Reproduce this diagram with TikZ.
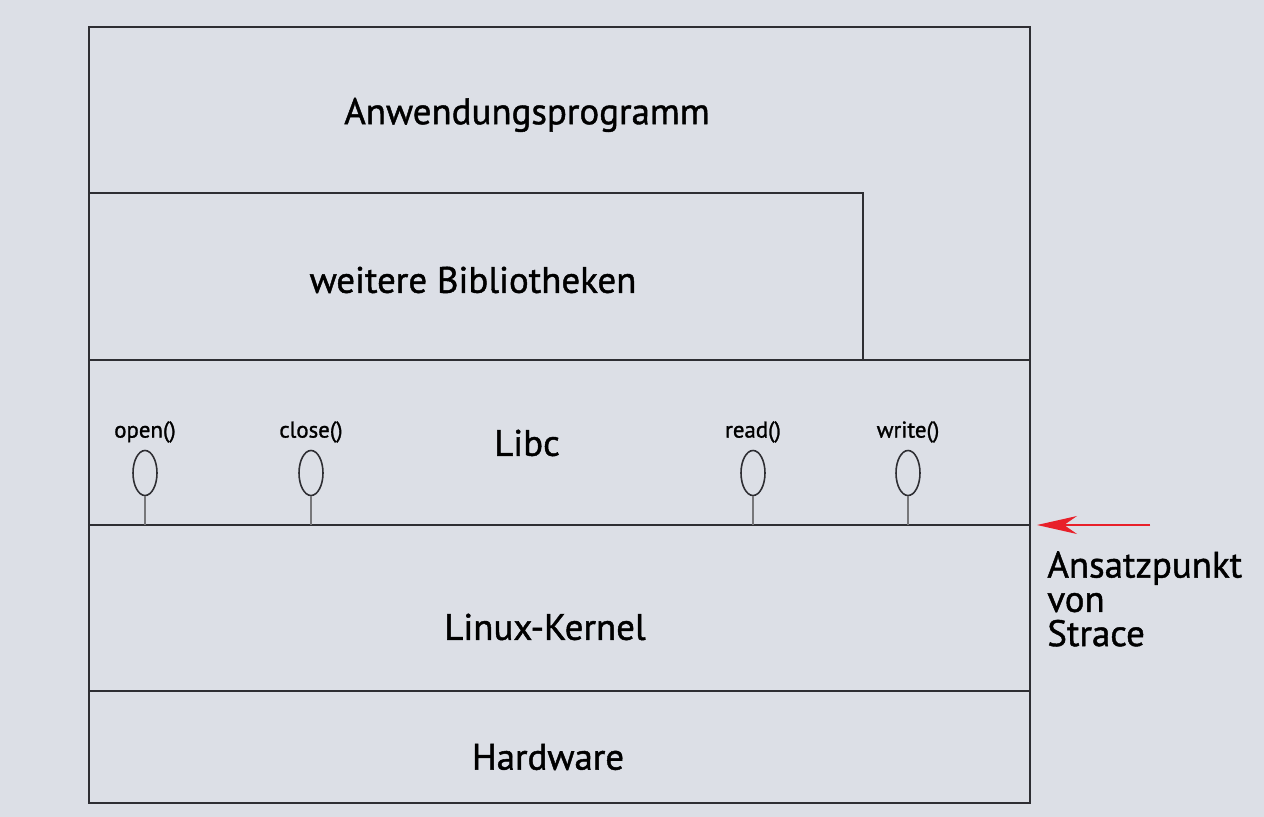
\documentclass[tikz,border=0pt]{standalone}
\usepackage{fontspec}
\setmainfont{PT Sans}
\newfontfamily\layerfont[FakeBold=1.2]{PT Sans}
\usepackage{xcolor}
\usetikzlibrary{positioning, arrows.meta, shapes.geometric, calc}
\definecolor{bgcol}{HTML}{DCDFE6}
\definecolor{linecol}{HTML}{2E2E33}
\definecolor{arrowred}{HTML}{E8202A}

\begin{document}
\begin{tikzpicture}[
    x=0.02cm, y=-0.02cm,
    layer/.style={draw=linecol, line width=1.4pt},
    label/.style={font=\layerfont\fontsize{21}{19}\selectfont, text=black},
    fname/.style={font=\layerfont\fontsize{13}{15}\selectfont, text=black, inner sep=1pt},
    pin/.style={ellipse, draw=linecol, line width=0.9pt, minimum width=0.48cm, minimum height=0.9cm, inner sep=0pt},
    stem/.style={draw=linecol!65, line width=1.6pt},
    arrow/.style={-{Stealth[length=0.8cm, width=0.36cm]}, draw=arrowred, fill=arrowred, line width=0.9pt}
]

% Background and frame
\fill[bgcol] (0,0) rectangle (1264,817);
\useasboundingbox (0,0) rectangle (1264,817);
\draw[layer] (89,27) rectangle (1030,803);

% Layers
\draw[layer] (89,193) -- (863,193) -- (863,360);
\draw[layer] (89,360) -- (1030,360);
\draw[layer] (89,525) -- (1030,525);
\draw[layer] (89,691) -- (1030,691);

% Layer names
\node[label] (app) at (527,115) {Anwendungsprogramm};
\node[label] (libs) at (473,280) {weitere Bibliotheken};
\node[label] (libc) at (527,443) {Libc};
\node[label] (kernel) at (545,627) {Linux-Kernel};
\node[label] (hw) at (548,757) {Hardware};

% System calls
\foreach \name/\xpos in {open/145, close/311, read/753, write/908} {
    \node[pin] (pin_\name) at (\xpos,473) {};
    \coordinate (base_\name) at (\xpos,525);
    \draw[stem] (pin_\name.south) -- (base_\name);
    \node[fname, above=0.1cm of pin_\name] (lbl_\name) {\name()};
}

% Strace
\coordinate (hook) at (1037,525);
\node[label, font=\layerfont\fontsize{21}{19.5}\selectfont, align=left, anchor=north west, inner sep=0pt] (strace) at (1047,551) {Ansatzpunkt\\von\\Strace};
\coordinate (tail) at (1150,525);
\draw[arrow] (tail) -- (hook);

\end{tikzpicture}
\end{document}
